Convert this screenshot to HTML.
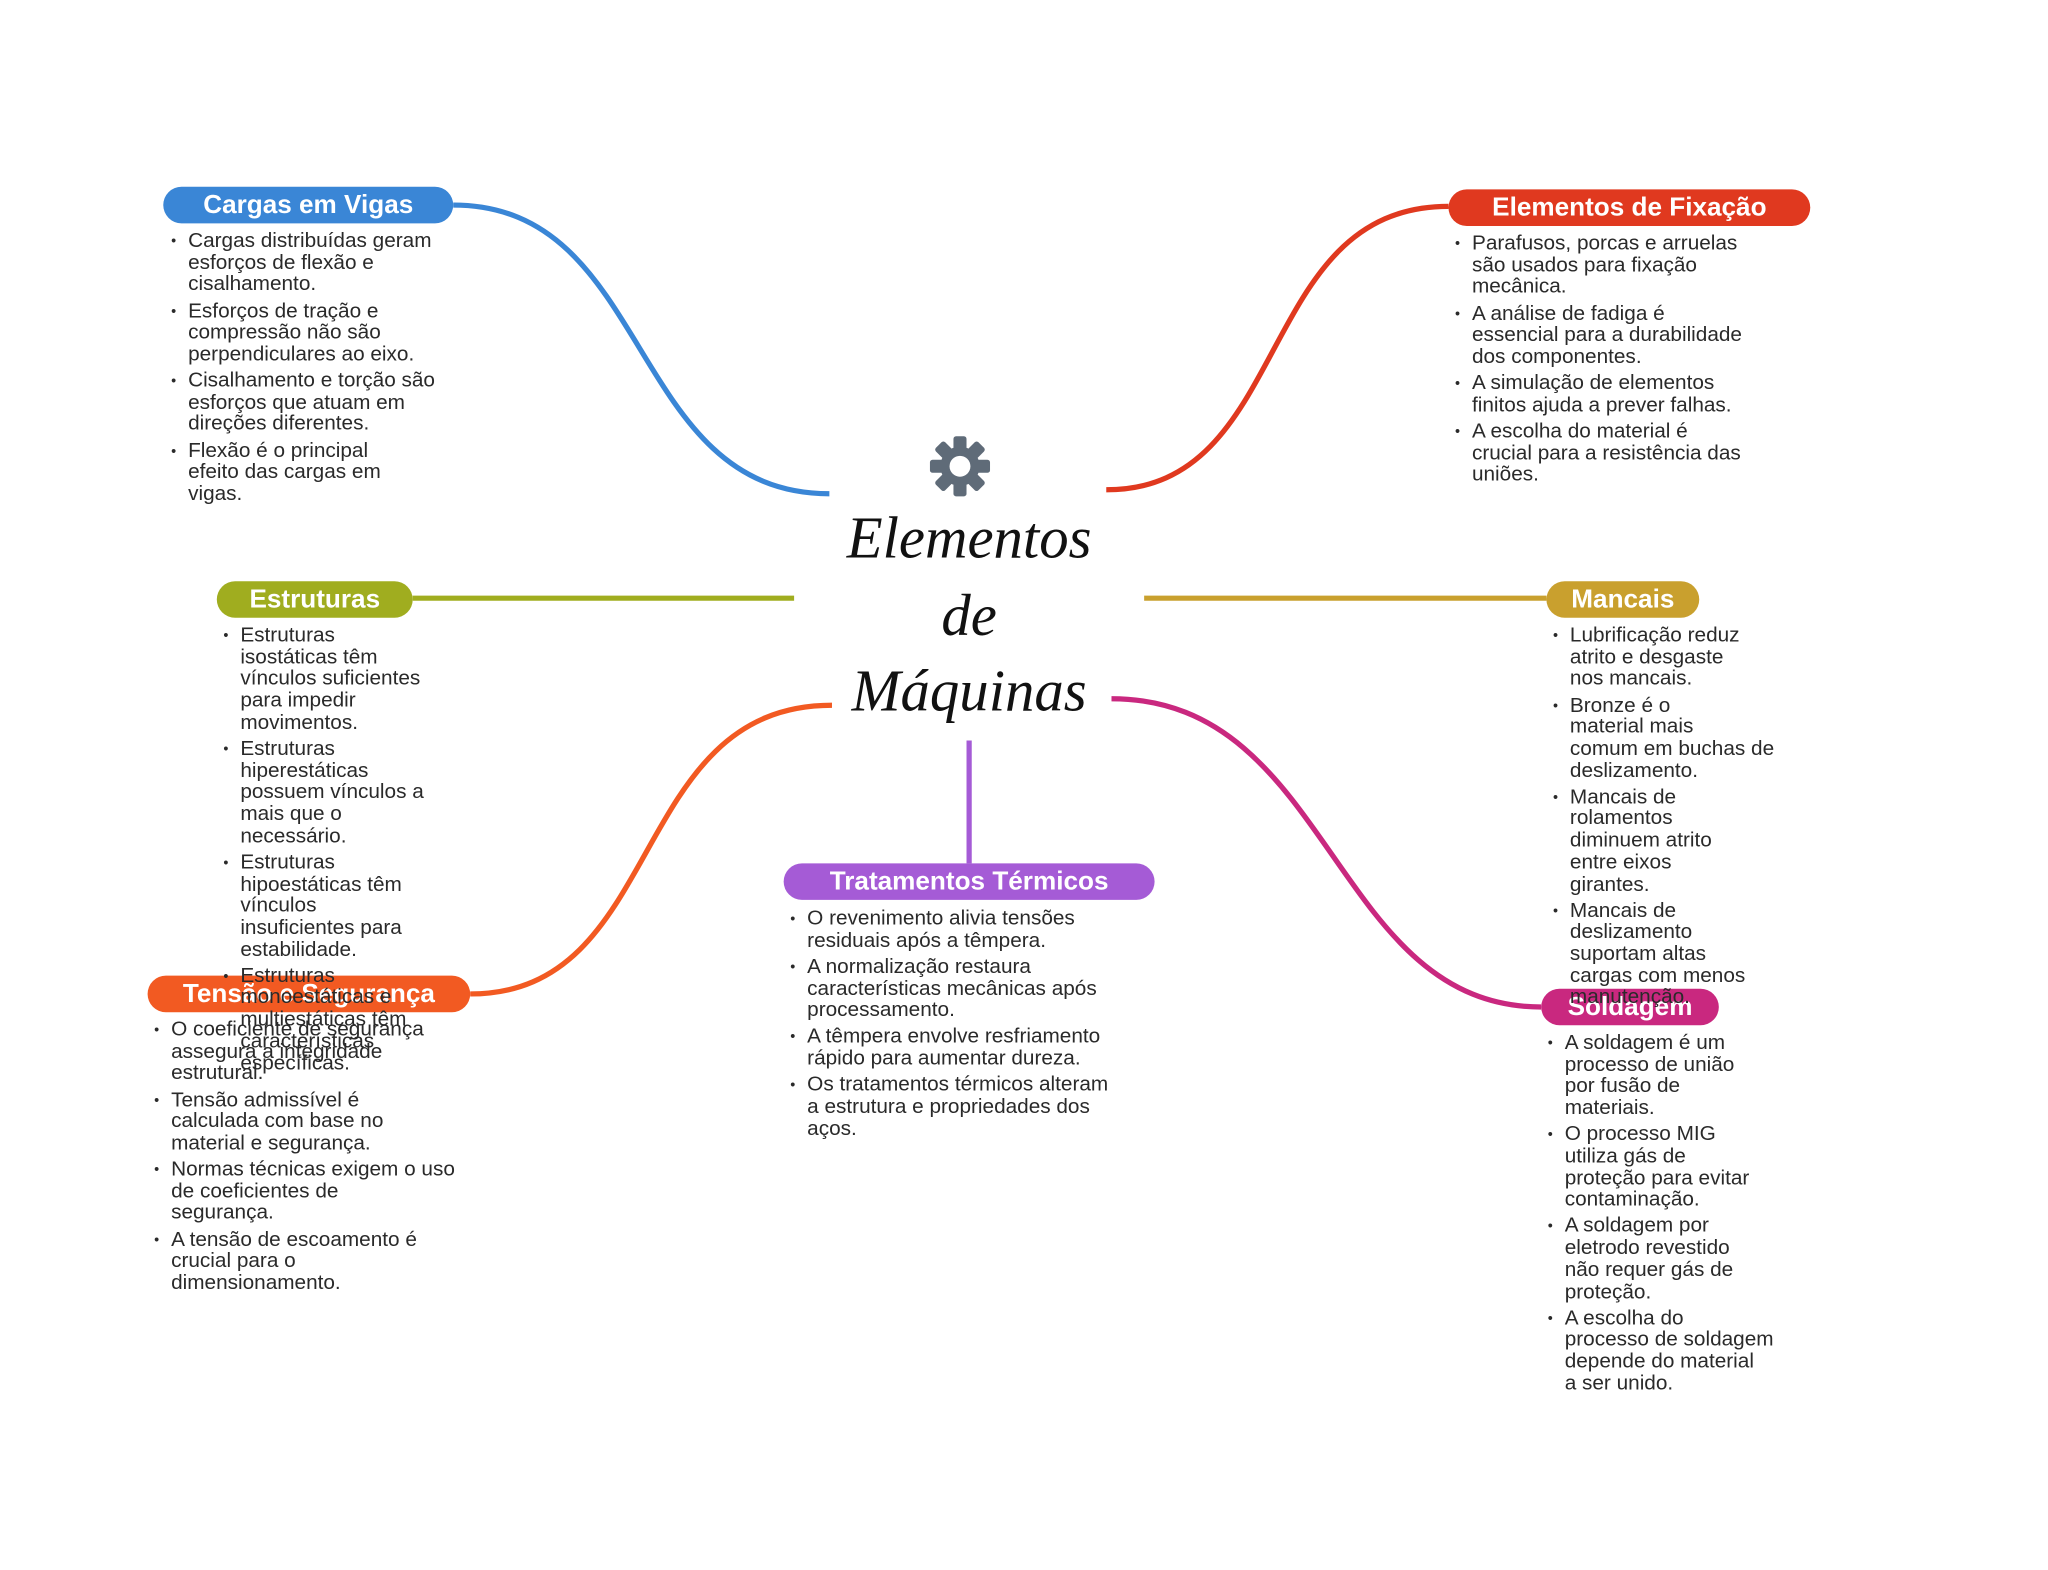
<!DOCTYPE html>
<html><head><meta charset="utf-8">
<style>
html,body{margin:0;padding:0;background:#fff;}
body{width:2048px;height:1569px;overflow:hidden;position:relative;}
#s{position:absolute;left:0;top:0;width:1568px;height:1202px;transform:scale(1.3061);transform-origin:0 0;font-family:"Liberation Sans",sans-serif;}
.pill{position:absolute;height:28px;border-radius:14px;color:#fff;font-weight:bold;font-size:20px;line-height:28px;text-align:center;white-space:nowrap;}
.t{position:absolute;font-size:15.9px;line-height:16.7px;color:#2a2a2a;white-space:nowrap;margin-top:2px;}
.t div{position:relative;margin-bottom:3.4px;}
.t div:before{content:"•";position:absolute;left:-13px;font-size:11px;}
.title{position:absolute;left:600px;width:284px;text-align:center;font-family:"Liberation Serif",serif;font-style:italic;font-size:45px;color:#111;line-height:58px;}
</style></head><body><div id="s">
<svg width="1568" height="1202" style="position:absolute;left:0;top:0" fill="none">
<path d="M347,157 C500,157 480,378 635,378" stroke="#3a86d6" stroke-width="4"/>
<path d="M847,375 C990,375 960,158 1109,158" stroke="#e0391f" stroke-width="4"/>
<path d="M316,458 L608,458" stroke="#a0ad1f" stroke-width="4"/>
<path d="M876,458 L1184,458" stroke="#c9a02e" stroke-width="4"/>
<path d="M742,567 L742,661" stroke="#a55bd6" stroke-width="4"/>
<path d="M360,761 C510,761 480,540 637,540" stroke="#f25a22" stroke-width="4"/>
<path d="M851,535 C1020,535 1020,771 1180,771" stroke="#c9287f" stroke-width="4"/>
<g transform="translate(735,357)" fill="#5f6b78">
<circle r="15"/>
<g><rect x="-5" y="-23" width="10" height="46" rx="2"/><rect x="-5" y="-23" width="10" height="46" rx="2" transform="rotate(45)"/><rect x="-5" y="-23" width="10" height="46" rx="2" transform="rotate(90)"/><rect x="-5" y="-23" width="10" height="46" rx="2" transform="rotate(135)"/></g>
<circle r="8" fill="#fff"/>
</g>
</svg>
<div class="title" style="top:383px">Elementos</div>
<div class="title" style="top:442px">de</div>
<div class="title" style="top:500px">Máquinas</div>

<div class="pill" style="left:125px;top:143px;width:222px;background:#3a86d6">Cargas em Vigas</div>
<div class="t" style="left:144px;top:175px">
<div>Cargas distribuídas geram<br>esforços de flexão e<br>cisalhamento.</div>
<div>Esforços de tração e<br>compressão não são<br>perpendiculares ao eixo.</div>
<div>Cisalhamento e torção são<br>esforços que atuam em<br>direções diferentes.</div>
<div>Flexão é o principal<br>efeito das cargas em<br>vigas.</div></div>

<div class="pill" style="left:1109px;top:145px;width:277px;background:#e0391f">Elementos de Fixação</div>
<div class="t" style="left:1127px;top:177px">
<div>Parafusos, porcas e arruelas<br>são usados para fixação<br>mecânica.</div>
<div>A análise de fadiga é<br>essencial para a durabilidade<br>dos componentes.</div>
<div>A simulação de elementos<br>finitos ajuda a prever falhas.</div>
<div>A escolha do material é<br>crucial para a resistência das<br>uniões.</div></div>

<div class="pill" style="left:166px;top:445px;width:150px;background:#a0ad1f">Estruturas</div>
<div class="pill" style="left:1184px;top:445px;width:117px;background:#c9a02e">Mancais</div>
<div class="pill" style="left:600px;top:661px;width:284px;background:#a55bd6">Tratamentos Térmicos</div>
<div class="pill" style="left:113px;top:747px;width:247px;background:#f25a22">Tensão e Segurança</div>
<div class="pill" style="left:1180px;top:757px;width:136px;background:#c9287f">Soldagem</div>

<div class="t" style="left:184px;top:477px">
<div>Estruturas<br>isostáticas têm<br>vínculos suficientes<br>para impedir<br>movimentos.</div>
<div>Estruturas<br>hiperestáticas<br>possuem vínculos a<br>mais que o<br>necessário.</div>
<div>Estruturas<br>hipoestáticas têm<br>vínculos<br>insuficientes para<br>estabilidade.</div>
<div>Estruturas<br>monoestáticas e<br>multiestáticas têm<br>características<br>específicas.</div></div>

<div class="t" style="left:1202px;top:477px">
<div>Lubrificação reduz<br>atrito e desgaste<br>nos mancais.</div>
<div>Bronze é o<br>material mais<br>comum em buchas de<br>deslizamento.</div>
<div>Mancais de<br>rolamentos<br>diminuem atrito<br>entre eixos<br>girantes.</div>
<div>Mancais de<br>deslizamento<br>suportam altas<br>cargas com menos<br>manutenção.</div></div>

<div class="t" style="left:618px;top:694px">
<div>O revenimento alivia tensões<br>residuais após a têmpera.</div>
<div>A normalização restaura<br>características mecânicas após<br>processamento.</div>
<div>A têmpera envolve resfriamento<br>rápido para aumentar dureza.</div>
<div>Os tratamentos térmicos alteram<br>a estrutura e propriedades dos<br>aços.</div></div>

<div class="t" style="left:131px;top:779px">
<div>O coeficiente de segurança<br>assegura a integridade<br>estrutural.</div>
<div>Tensão admissível é<br>calculada com base no<br>material e segurança.</div>
<div>Normas técnicas exigem o uso<br>de coeficientes de<br>segurança.</div>
<div>A tensão de escoamento é<br>crucial para o<br>dimensionamento.</div></div>

<div class="t" style="left:1198px;top:789px">
<div>A soldagem é um<br>processo de união<br>por fusão de<br>materiais.</div>
<div>O processo MIG<br>utiliza gás de<br>proteção para evitar<br>contaminação.</div>
<div>A soldagem por<br>eletrodo revestido<br>não requer gás de<br>proteção.</div>
<div>A escolha do<br>processo de soldagem<br>depende do material<br>a ser unido.</div></div>
</div></body></html>
